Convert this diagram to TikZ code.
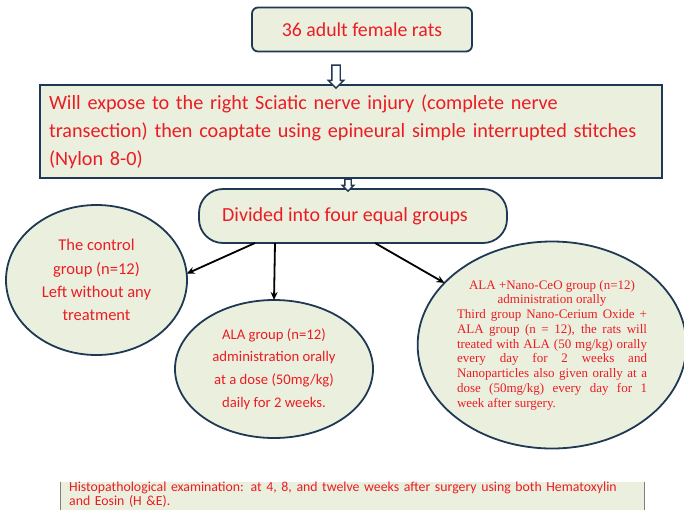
\documentclass[tikz,border=0pt]{standalone}
\usepackage{fontspec}
\setmainfont{Carlito}
\newfontfamily\timesfont{Liberation Serif}
\usetikzlibrary{arrows.meta,shapes.geometric,shapes.arrows,calc}
\definecolor{boxfill}{RGB}{235,240,222}
\definecolor{boxline}{RGB}{31,56,84}
\definecolor{txtred}{RGB}{236,28,36}

\begin{document}
\begin{tikzpicture}[
		x=1pt, y=-1pt,
		MyBox/.style={draw=boxline, fill=boxfill, line width=1.8pt, text=txtred,
			outer sep=0pt},
		MyOval/.style={MyBox, ellipse, inner sep=0pt, align=center},
		MyArrow/.style={-{Stealth[length=8pt, width=7pt]}, line width=1.8pt},
		HollowArrow/.style={draw=boxline, fill=white, line width=1.4pt,
			single arrow, shape border rotate=270},
		]
		\useasboundingbox (0,0) rectangle (684,509);
		
		\node [MyBox, rounded corners=6pt, minimum width=220, minimum height=44,
			font=\fontsize{19.8}{22}\selectfont] (rats) at (362,29.5) {36 adult female rats};
		\node [MyBox, minimum width=622, minimum height=93, text width=604,
			inner xsep=9pt, align=left, font=\fontsize{20.2}{28}\selectfont]
			(expose) at (351,131.5) {Will expose to the right Sciatic nerve injury (complete nerve\\
			transection) then coaptate using epineural simple interrupted stitches\\
			(Nylon 8-0)};
		
		\node [MyOval, minimum width=181, minimum height=150,
			font=\fontsize{16.5}{23.3}\selectfont] (control) at (96.5,280)
			{The control\\group (n=12)\\Left without any\\treatment};
		\node [MyOval, minimum width=198, minimum height=138,
			font=\fontsize{14.7}{22.7}\selectfont] (ala) at (274,369)
			{ALA group (n=12)\\administration orally\\at a dose (50mg/kg)\\daily for 2 weeks.};
		\node [MyOval, minimum width=264, minimum height=207, text width=190,
			align=justify, font=\timesfont\fontsize{13}{14.75}\selectfont]
			(nano) at (552,345) {{\centering ALA +Nano-CeO group (n=12)\\
			administration orally\par}Third group Nano-Cerium Oxide +\linebreak
			ALA group (n = 12), the rats will\linebreak
			treated with ALA (50 mg/kg) orally\linebreak
			every day for 2 weeks and\linebreak
			Nanoparticles also given orally at a\linebreak
			dose (50mg/kg) every day for 1\linebreak
			week after surgery.};
		
		\node [MyBox, rounded corners=24pt, minimum width=308, minimum height=54,
			font=\fontsize{20}{24}\selectfont] (divided) at (353,216)
			{\hspace*{-16pt}Divided into four equal groups};
		
		\node [HollowArrow, inner sep=3.5pt, minimum height=23pt,
			single arrow head extend=3.5pt] (arrA) at (336,74.5) {};
		\node [HollowArrow, inner sep=2.5pt, minimum height=12pt,
			single arrow head extend=2.5pt] (arrB) at (348,183.5) {};
		
		\draw [MyArrow] ($(divided.south)+(-98,0)$) -- (control.4);
		\draw [MyArrow] ($(divided.south)+(-78,0)$) -- (ala.north);
		\draw [MyArrow] ($(divided.south)+(22,0)$) -- (nano.150);
		
		\node [fill=boxfill, text=txtred, anchor=north west, text width=566,
			inner xsep=9pt, inner ysep=0.5pt, align=left,
			font=\fontsize{13.8}{11.5}\selectfont] (histo) at (60,481.5)
			{Histopathological examination: at 4, 8, and twelve weeks after surgery
			using both Hematoxylin\\and Eosin (H \&E).};
		\fill [boxfill] (histo.south west) rectangle ($(histo.south east)+(0,5)$);
		\draw [gray, line width=0.6pt] (histo.north west) -- ($(histo.south west)+(0,5)$);
		\draw [gray, line width=0.6pt] (histo.north east) -- ($(histo.south east)+(0,5)$);
		
		\end{tikzpicture}
\end{document}
